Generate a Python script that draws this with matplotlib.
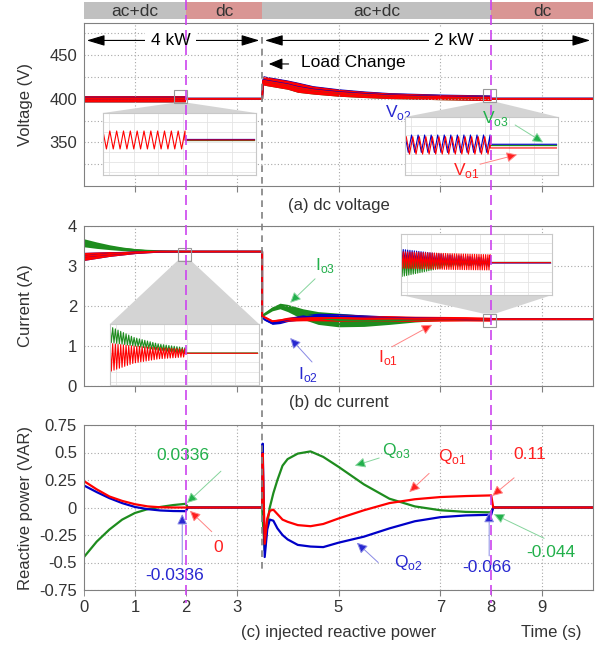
import numpy as np
import matplotlib.pyplot as plt
from matplotlib.colors import to_rgb
from matplotlib.lines import Line2D
from matplotlib.patches import FancyArrowPatch, Polygon, Rectangle
from matplotlib.transforms import blended_transform_factory

plt.rcParams['font.family'] = ['Liberation Sans', 'DejaVu Sans']
plt.rcParams['mathtext.fontset'] = 'custom'
plt.rcParams['mathtext.rm'] = 'Liberation Sans'
plt.rcParams['axes.unicode_minus'] = False
plt.rcParams['font.size'] = 12

RED, BLUE, GREEN = '#ff0000', '#0000c8', '#1e8c1e'
RED_T, BLUE_T, GREEN_T = '#ff2020', '#2828d0', '#22b04b'
MAGENTA = '#cc44ee'
INK = '#333333'

# operating modes / events
mode_names = ['ac+dc', 'dc', 'ac+dc', 'dc']
mode_edges = [0, 2, 3.5, 8, 10]
mode_colors = ['#c0c0c0', '#d99694', '#c0c0c0', '#d99694']
t_load = 3.5
t_switch = [2, 8]
loads = ['4 kW', '2 kW']
load_edges = [0, 3.5, 10]
load_text_t = [1.7, 7.27]

# (a) dc voltage: centre value and ripple half-width
t_v = [0, 1.99, 2.0, 3.5, 3.52, 3.6, 3.8, 4.0, 4.2, 4.5, 5.0, 5.5, 6.0, 7.0, 7.99, 8.0, 10]
v_o1 = [400, 400, 400, 400, 421, 420, 418, 416, 413, 410, 407, 405, 403.5, 402, 401, 400, 400]
v_o2 = [400.2, 400.2, 400.2, 400.2, 421.6, 420.6, 418.6, 416.6, 413.6, 410.6, 407.6, 405.6, 404,
        402.5, 401.5, 400.3, 400.3]
v_o3 = [400, 400, 400, 400, 421, 420, 418, 416, 413, 410, 407, 405, 403.5, 402, 401, 400, 400]
v_rip = [3.5, 3.5, 0, 0, 5, 5, 5, 5, 5.5, 4.5, 4, 3.5, 3.2, 3, 3, 0, 0]

# (b) dc current
t_i = [0, 0.25, 0.5, 0.75, 1.0, 1.25, 1.5, 2.0, 3.5, 3.5, 3.55, 3.7, 3.85, 4.0, 4.3, 4.6,
       5.0, 5.5, 6.0, 6.5, 7.0, 7.5, 7.99, 8.0, 10]
i_o1 = [3.24, 3.27, 3.3, 3.32, 3.34, 3.35, 3.36, 3.36, 3.36, 1.75, 1.72, 1.62, 1.64, 1.67, 1.69, 1.7,
        1.7, 1.69, 1.69, 1.68, 1.68, 1.68, 1.67, 1.67, 1.67]
i_o1_rip = [0.1, 0.08, 0.06, 0.045, 0.03, 0.02, 0.012, 0, 0, 0.01, 0.02, 0.03, 0.04, 0.05, 0.06, 0.07,
            0.08, 0.075, 0.07, 0.065, 0.06, 0.055, 0.05, 0, 0]
i_o2 = [3.24, 3.27, 3.3, 3.32, 3.34, 3.35, 3.36, 3.36, 3.36, 1.72, 1.66, 1.57, 1.6, 1.66, 1.72, 1.75,
        1.74, 1.72, 1.7, 1.69, 1.68, 1.67, 1.67, 1.67, 1.67]
i_o2_rip = [0.1, 0.08, 0.06, 0.045, 0.03, 0.02, 0.012, 0, 0, 0.01, 0.02, 0.03, 0.04, 0.05, 0.06, 0.07,
            0.07, 0.06, 0.05, 0.04, 0.03, 0.02, 0.01, 0, 0]
i_o3 = [3.58, 3.52, 3.47, 3.43, 3.4, 3.38, 3.37, 3.36, 3.36, 1.75, 1.8, 1.93, 2.0, 1.95, 1.8, 1.7,
        1.65, 1.63, 1.64, 1.66, 1.67, 1.67, 1.67, 1.67, 1.67]
i_o3_rip = [0.1, 0.08, 0.06, 0.045, 0.035, 0.025, 0.015, 0, 0, 0.01, 0.03, 0.05, 0.07, 0.09, 0.13, 0.16,
            0.17, 0.14, 0.1, 0.06, 0.03, 0.015, 0.005, 0, 0]

# (c) injected reactive power
t_q = [0, 0.25, 0.5, 0.75, 1.0, 1.25, 1.5, 1.75, 2.0, 2.04, 3.5, 3.51, 3.55, 3.6, 3.65, 3.72, 3.8,
       3.9, 4.0, 4.2, 4.45, 4.7, 5.0, 5.5, 6.0, 6.5, 7.0, 7.5, 8.0, 8.04, 10]
q_o1 = [0.24, 0.165, 0.1, 0.06, 0.03, 0.01, 0.002, 0, 0, 0, 0, 0.49, -0.33, -0.1, -0.03, -0.02, -0.06,
        -0.11, -0.13, -0.16, -0.17, -0.15, -0.1, -0.025, 0.04, 0.075, 0.095, 0.104, 0.11, 0, 0]
q_o2 = [0.2, 0.14, 0.085, 0.04, 0.005, -0.015, -0.027, -0.032, -0.0336, 0, 0, 0.58, -0.45, -0.2, -0.11,
        -0.12, -0.19, -0.25, -0.29, -0.34, -0.355, -0.36, -0.32, -0.265, -0.19, -0.125, -0.088, -0.072,
        -0.066, 0, 0]
q_o3 = [-0.45, -0.31, -0.2, -0.11, -0.05, -0.015, 0.005, 0.022, 0.0336, 0, 0, -0.1, -0.39, -0.15, 0.0,
        0.13, 0.25, 0.38, 0.44, 0.49, 0.51, 0.46, 0.37, 0.21, 0.08, 0.01, -0.025, -0.04, -0.044, 0, 0]

x_grid_ticks = [1, 3, 5, 7, 9]
x_extra_ticks = [0, 2, 8]
v_ticks = [350, 400, 450]
v_minor = [325, 375, 425, 475]
i_ticks = [0, 1, 2, 3, 4]
q_ticks = [-0.75, -0.5, -0.25, 0, 0.25, 0.5, 0.75]
q_tick_labels = ['-0.75', '-0.5', '-0.25', '0', '0.25', '0.5', '0.75']

# zoomed views, in inset units: ripple envelope before the switch, level after it
za_x, za_n = [0, 0.536], 12
za_o1_hi, za_o1_lo = [0.71, 0.71], [0.42, 0.42]
za_level = [0.565, 0.575, 0.56]      # o1, o2, o3
zb_x, zb_n = [0, 0.556], 13
zb_o1_hi, zb_o1_lo = [0.66, 0.66], [0.36, 0.36]
zb_o2_hi, zb_o2_lo = [0.69, 0.69], [0.39, 0.39]
zb_level = [0.466, 0.53, 0.51]
zc_x, zc_n = [0, 0.16, 0.33, 0.503], 28
zc_o3_hi, zc_o3_lo = [0.96, 0.78, 0.67, 0.61], [0.70, 0.64, 0.57, 0.52]
zc_o1_hi, zc_o1_lo = [0.68, 0.64, 0.61, 0.59], [0.22, 0.36, 0.43, 0.46]
zc_level = [0.52, 0.52, 0.525]
zd_x, zd_n = [0, 0.3, 0.59], 40
zd_o2_hi, zd_o2_lo = [0.75, 0.66, 0.6], [0.55, 0.5, 0.47]
zd_o3_hi, zd_o3_lo = [0.6, 0.55, 0.54], [0.3, 0.46, 0.5]
zd_o1_hi, zd_o1_lo = [0.71, 0.68, 0.66], [0.44, 0.42, 0.41]
zd_level = [0.53, 0.525, 0.535]

W, H = 597, 651
fig = plt.figure(figsize=(W / 100, H / 100), dpi=100)


def px_rect(x0, y0, x1, y1):
    return [x0 / W, 1 - y1 / H, (x1 - x0) / W, (y1 - y0) / H]


def light(c, f=0.5):
    r, g, b = to_rgb(c)
    return (r + (1 - r) * f, g + (1 - g) * f, b + (1 - b) * f)


def style(ax, ylim):
    ax.set_xlim(0, 10)
    ax.set_ylim(*ylim)
    for s in ax.spines.values():
        s.set_color('#808080')
    ax.set_xticks(x_grid_ticks)
    ax.tick_params(axis='x', length=4, color='#808080', labelsize=12, labelcolor=INK, pad=3)
    ax.tick_params(axis='y', length=0, labelsize=12, labelcolor=INK, pad=5)
    ax.grid(True, which='both', color='#a8a8a8', ls=(0, (1, 2)), lw=0.8)


def band(ax, t, c, hw, color):
    c, hw = np.asarray(c), np.asarray(hw)
    ax.fill_between(t, c - hw, c + hw, color=color, lw=0)
    ax.plot(t, c, color=color, lw=1.4)


def callout(ax, label, txy, tail, head, color, ha='center', z=6):
    fig.text(txy[0], txy[1], label, transform=ax.transData, color=color, ha=ha, va='center',
             fontsize=12.5, zorder=z)
    fig.add_artist(FancyArrowPatch(tail, head, transform=ax.transData,
                                   arrowstyle='-|>,head_length=0.45,head_width=0.22',
                                   mutation_scale=14, shrinkA=0, shrinkB=0, fc=color,
                                   ec=light(color, 0.45), lw=0.7, zorder=z))


def inset(rect):
    ia = fig.add_axes(px_rect(*rect), zorder=3)
    ia.set_xlim(0, 1)
    ia.set_ylim(0, 1)
    ia.set_xticks(np.linspace(0.04, 1, 7))
    ia.set_yticks(np.arange(0.05, 1, 0.16))
    ia.tick_params(length=0, labelbottom=False, labelleft=False)
    ia.grid(True, color='#e4e4e4', lw=0.6)
    for s in ia.spines.values():
        s.set_color('#c8c8c8')
    return ia


def ripple(ia, xk, hi, lo, n, level, color, shift=0.0):
    x = np.linspace(xk[0], xk[-1], 2 * n + 1)
    y = np.where(np.arange(x.size) % 2 == 0, np.interp(x, xk, hi), np.interp(x, xk, lo))
    x = np.append(x + shift, [xk[-1], ia.get_xlim()[1] - 0.01])
    y = np.append(y, [level, level])
    ia.plot(x, y, color=color, lw=0.8)


def level_line(ia, x_sw, level, color):
    ia.plot([x_sw, ia.get_xlim()[1] - 0.01], [level, level], color=color, lw=0.9)


def zoom_link(ax, ia, cx, cy, below=True):
    x0, y0 = fig.transFigure.inverted().transform(ax.transData.transform((cx, cy)))
    dx, dy = 6.5 / W, 6.5 / H
    L, B, w, h = ia.get_position().bounds
    if below:
        pts = [(x0 - dx, y0 - dy), (x0 + dx, y0 - dy), (L + w, B + h), (L, B + h)]
    else:
        pts = [(x0 - dx, y0 + dy), (x0 + dx, y0 + dy), (L + w, B), (L, B)]
    fig.add_artist(Polygon(pts, closed=True, transform=fig.transFigure, fc='#d4d4d4', ec='none',
                           zorder=2))
    fig.add_artist(Rectangle((x0 - dx, y0 - dy), 2 * dx, 2 * dy, transform=fig.transFigure,
                             fc='none', ec='#999999', lw=0.8, zorder=2))


# mode bar
ax0 = fig.add_axes(px_rect(84, 2, 593, 19))
ax0.set_xlim(0, 10)
ax0.set_ylim(0, 1)
ax0.axis('off')
for name, a, b, col in zip(mode_names, mode_edges[:-1], mode_edges[1:], mode_colors):
    ax0.axvspan(a, b, color=col, lw=0)
    ax0.text((a + b) / 2, 0.45, name, ha='center', va='center', fontsize=12.5, color=INK)

# (a) voltage
ax1 = fig.add_axes(px_rect(84, 23, 593, 186))
style(ax1, (300, 487))
ax1.set_yticks(v_ticks)
ax1.set_yticks(v_minor, minor=True)
ax1.tick_params(axis='y', which='minor', length=0)
ax1.set_xticklabels([])
band(ax1, t_v, v_o3, v_rip, GREEN)
band(ax1, t_v, v_o2, v_rip, BLUE)
band(ax1, t_v, v_o1, v_rip, RED)
ax1.set_ylabel('Voltage (V)', color=INK)
ax1.yaxis.set_label_coords(-0.1, 0.5)
ax1.text(0.5, -0.117, '(a) dc voltage', transform=ax1.transAxes, ha='center', va='center', color=INK)
for lab, a, b, tx in zip(loads, load_edges[:-1], load_edges[1:], load_text_t):
    ax1.annotate('', xy=(a, 467), xytext=(b, 467),
                 arrowprops=dict(arrowstyle='<|-|>,head_length=1.0,head_width=0.3', color='k',
                                 lw=0.8, mutation_scale=11, shrinkA=2, shrinkB=2))
    ax1.text(tx, 467, lab, ha='center', va='center', fontsize=12.5, color='k',
             bbox=dict(fc='white', ec='none', pad=4))
ax1.add_patch(FancyArrowPatch((4.02, 440), (3.63, 440),
                              arrowstyle='-|>,head_length=0.6,head_width=0.25',
                              mutation_scale=14, color='k', lw=0.8, shrinkA=0, shrinkB=0))
ax1.text(4.26, 442, 'Load Change', ha='left', va='center', fontsize=12.5, color='k')

# (b) current
ax2 = fig.add_axes(px_rect(84, 226, 593, 386))
style(ax2, (0, 4))
ax2.set_yticks(i_ticks)
ax2.set_xticklabels([])
band(ax2, t_i, i_o3, i_o3_rip, GREEN)
band(ax2, t_i, i_o2, i_o2_rip, BLUE)
band(ax2, t_i, i_o1, i_o1_rip, RED)
ax2.set_ylabel('Current (A)', color=INK)
ax2.yaxis.set_label_coords(-0.1, 0.5)
ax2.text(0.5, -0.106, '(b) dc current', transform=ax2.transAxes, ha='center', va='center', color=INK)

# (c) reactive power
ax3 = fig.add_axes(px_rect(84, 425, 593, 590))
style(ax3, (-0.75, 0.75))
ax3.set_yticks(q_ticks)
ax3.set_yticklabels(q_tick_labels)
ax3.set_xticklabels([str(v) for v in x_grid_ticks])
ax3.set_xticks(x_extra_ticks, minor=True)
ax3.set_xticklabels([str(v) for v in x_extra_ticks], minor=True)
ax3.tick_params(axis='x', which='minor', length=4, color='#808080', labelsize=12, labelcolor=INK, pad=3)
ax3.grid(False, which='minor')
ax3.plot(t_q, q_o3, color=GREEN, lw=1.6)
ax3.plot(t_q, q_o2, color=BLUE, lw=1.6)
ax3.plot(t_q, q_o1, color=RED, lw=1.6)
ax3.set_ylabel('Reactive power (VAR)', color=INK)
ax3.yaxis.set_label_coords(-0.1, 0.5)
ax3.text(0.5, -0.26, '(c) injected reactive power', transform=ax3.transAxes, ha='center', va='center',
         color=INK)
ax3.text(0.917, -0.26, 'Time (s)', transform=ax3.transAxes, ha='center', va='center', color=INK)

# zoomed views
ia = inset((103, 113, 256, 175))
level_line(ia, za_x[-1], za_level[2], GREEN)
level_line(ia, za_x[-1], za_level[1], BLUE)
ripple(ia, za_x, za_o1_hi, za_o1_lo, za_n, za_level[0], RED)
zoom_link(ax1, ia, 1.9, 403)

ib = inset((405, 117, 558, 175))
level_line(ib, zb_x[-1], zb_level[2], GREEN)
ripple(ib, zb_x, zb_o2_hi, zb_o2_lo, zb_n, zb_level[1], BLUE)
ripple(ib, zb_x, zb_o1_hi, zb_o1_lo, zb_n, zb_level[0], RED, shift=0.008)
zoom_link(ax1, ib, 7.96, 404)

ic = inset((110, 324, 259, 385))
ripple(ic, zc_x, zc_o3_hi, zc_o3_lo, zc_n, zc_level[2], GREEN)
ripple(ic, zc_x, zc_o1_hi, zc_o1_lo, zc_n, zc_level[0], RED)
zoom_link(ax2, ic, 1.97, 3.3)

idd = inset((401, 234, 552, 295))
ripple(idd, zd_x, zd_o3_hi, zd_o3_lo, zd_n, zd_level[2], GREEN)
ripple(idd, zd_x, zd_o2_hi, zd_o2_lo, zd_n, zd_level[1], BLUE)
ripple(idd, zd_x, zd_o1_hi, zd_o1_lo, zd_n, zd_level[0], RED)
zoom_link(ax2, idd, 7.96, 1.65, below=False)

# labels
callout(ax1, 'V$_{\\rm o2}$', (5.91, 384), (6.64, 378), (7.05, 362), BLUE_T, ha='left', z=2.5)
callout(ax1, 'V$_{\\rm o3}$', (7.82, 378), (8.47, 370), (9.02, 350), GREEN_T, ha='left')
callout(ax1, 'V$_{\\rm o1}$', (7.25, 318), (7.78, 325), (8.51, 336), RED_T, ha='left')
callout(ax2, 'I$_{\\rm o3}$', (4.73, 3.02), (4.54, 2.68), (4.05, 2.08), GREEN_T)
callout(ax2, 'I$_{\\rm o2}$', (4.4, 0.28), (4.48, 0.6), (4.05, 1.2), BLUE_T)
callout(ax2, 'I$_{\\rm o1}$', (5.97, 0.7), (6.05, 0.98), (6.84, 1.53), RED_T)
callout(ax3, '0.0336', (1.95, 0.47), (2.69, 0.33), (2.02, 0.04), GREEN_T)
callout(ax3, '0', (2.63, -0.36), (2.51, -0.22), (2.08, -0.03), RED_T)
callout(ax3, '-0.0336', (1.79, -0.62), (1.93, -0.52), (1.93, -0.06), BLUE_T)
callout(ax3, 'Q$_{\\rm o3}$', (6.13, 0.52), (5.8, 0.45), (5.32, 0.38), GREEN_T)
callout(ax3, 'Q$_{\\rm o1}$', (7.23, 0.46), (6.78, 0.31), (6.39, 0.14), RED_T)
callout(ax3, '0.11', (8.76, 0.48), (8.45, 0.27), (8.02, 0.105), RED_T)
callout(ax3, 'Q$_{\\rm o2}$', (6.37, -0.5), (5.78, -0.5), (5.36, -0.32), BLUE_T)
callout(ax3, '-0.066', (7.92, -0.55), (7.96, -0.44), (7.96, -0.04), BLUE_T)
callout(ax3, '-0.044', (9.17, -0.41), (9.04, -0.28), (8.05, -0.06), GREEN_T)

# event markers across all panels
tr = blended_transform_factory(ax3.transData, fig.transFigure)
fig.add_artist(Line2D([t_load, t_load], [1 - 37 / H, 1 - 573 / H], transform=tr, color='#808080',
                      lw=1.2, dashes=(4, 3), zorder=1.5))
for ts in t_switch:
    fig.add_artist(Line2D([ts, ts], [1.0, 1 - 603 / H], transform=tr, color=MAGENTA, lw=1.2,
                          dashes=(6, 3), zorder=7))

fig.savefig('out.png', dpi=100)
